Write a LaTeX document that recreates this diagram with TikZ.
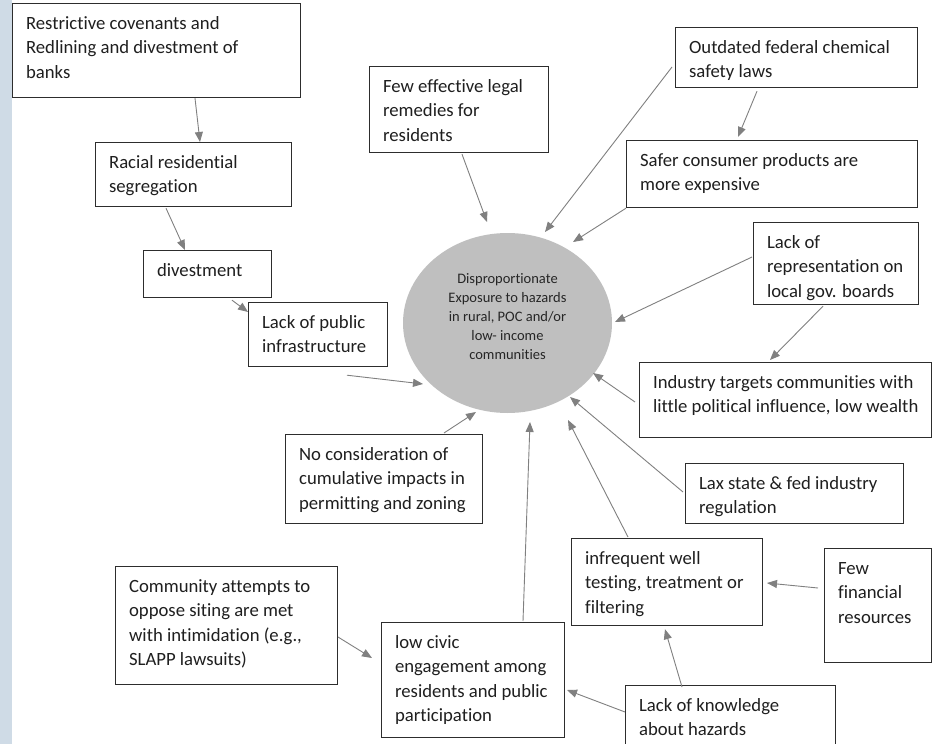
\documentclass[tikz,border=0pt]{standalone}
\usepackage{fontspec}
\setmainfont{Carlito}[Ligatures={NoCommon}]
\usetikzlibrary{shapes.geometric,arrows.meta,calc}
\definecolor{stripblue}{RGB}{207,219,230}
\definecolor{ellfill}{RGB}{191,191,191}
\definecolor{arrgray}{RGB}{128,128,128}
\definecolor{boxline}{RGB}{45,45,45}
\newcommand{\cbox}[6]{%
  \node[cbox,anchor=north west] (#1) at (#2,#3)
  {\hspace*{13.5pt}\parbox[c][\dimexpr #5pt-16.7pt\relax][t]{\dimexpr #4pt-13.5pt\relax}{\raggedright\strut #6}};}
\begin{document}
\begin{tikzpicture}[x=1pt,y=-1pt,
  cbox/.style={draw=boxline,line width=1.2pt,rectangle,inner xsep=0pt,inner ysep=8.35pt,
    font=\fontsize{18.7}{24.5}\selectfont,text=black!88},
  arr/.style={draw=arrgray,line width=0.9pt,-{Triangle[length=10pt,width=8pt]}}]
\useasboundingbox (0,0) rectangle (932,744);
\fill[white] (0,0) rectangle (932,744);
\fill[stripblue] (0,0) rectangle (12,744);

\node[ellipse,fill=ellfill,minimum width=209pt,minimum height=180pt,inner sep=0pt,
  label={[yshift=6pt,align=center,text=black!85,font=\fontsize{14.5}{19}\selectfont]center:{Disproportionate\\Exposure to hazards\\in rural, POC and/or\\low- income\\communities}}] (E) at (507.5,323) {};

\cbox{b1}{12}{3}{288}{94}{Restrictive covenants and\\Redlining and divestment of\\banks}
\cbox{b2}{95}{142}{196}{64}{Racial residential\\segregation}
\cbox{b3}{143}{250}{128}{47}{divestment}
\cbox{b4}{248}{302}{139}{64}{Lack of public\\infrastructure}
\cbox{b5}{369}{66}{179}{86}{Few effective legal\\remedies for\\residents}
\cbox{b6}{675}{27}{242}{60}{Outdated federal chemical\\safety laws}
\cbox{b7}{626}{140}{291}{67}{Safer consumer products are\\more expensive}
\cbox{b8}{753}{222}{165}{82}{Lack of\\representation on\\local gov. boards}
\cbox{b9}{639}{362}{292}{75}{Industry targets communities with\\little political influence, low wealth}
\cbox{b10}{685}{463}{218}{60}{Lax state \& fed industry\\regulation}
\cbox{b11}{285}{434}{197}{89}{No consideration of\\cumulative impacts in\\permitting and zoning}
\cbox{b12}{571}{538}{191}{87}{infrequent well\\testing, treatment or\\filtering}
\cbox{b13}{824}{548}{107}{114}{Few\\financial\\resources}
\cbox{b14}{115}{566}{222}{118}{Community attempts to\\oppose siting are met\\with intimidation (e.g.,\\SLAPP lawsuits)}
\cbox{b15}{381}{622}{183}{115}{low civic\\engagement among\\residents and public\\participation}
\cbox{b16}{625}{685}{210}{64}{Lack of knowledge\\about hazards}

\draw[arr] ($(b1.south west)+(183,0)$) -- ($(b2.north west)+(105,0)$);
\draw[arr] ($(b2.south west)+(71,1)$) -- ($(b3.north west)+(42,0)$);
\draw[arr] ($(b3.south west)+(89,2)$) -- ($(b4.north west)+(0,10)$);
\draw[arr] ($(b4.south west)+(99,8)$) -- ($(E.center)+(-84.5,61)$);
\draw[arr] ($(b5.south west)+(93,1)$) -- ($(E.center)+(-20.5,-101)$);
\draw[arr] ($(b6.north west)+(-3,40)$) -- ($(E.center)+(37.5,-91)$);
\draw[arr] ($(b6.south west)+(82,3)$) -- ($(b7.north west)+(112,-3)$);
\draw[arr] (b7.south west) -- ($(E.center)+(65.5,-81)$);
\draw[arr] ($(b8.north west)+(-1,35)$) -- ($(E.center)+(107.5,-1)$);
\draw[arr] ($(b8.south west)+(70,1)$) -- ($(b9.north west)+(131,-2)$);
\draw[arr] ($(b9.north west)+(-4,40)$) -- ($(E.center)+(85.5,50)$);
\draw[arr] ($(b10.north west)+(-2,29)$) -- ($(E.center)+(62.5,74)$);
\draw[arr] ($(b12.north west)+(57,-1)$) -- ($(E.center)+(60.5,97)$);
\draw[arr] ($(b15.north west)+(142,-1)$) -- ($(E.center)+(22.5,99)$);
\draw[arr] ($(b11.north west)+(159,-1)$) -- ($(E.center)+(-31.5,89)$);
\draw[arr] ($(b14.north west)+(223,71)$) -- ($(b15.north west)+(-9,36)$);
\draw[arr] ($(b16.north west)+(0,27)$) -- ($(b15.north west)+(186,68)$);
\draw[arr] ($(b16.north west)+(57,2)$) -- ($(b12.south west)+(94,3)$);
\draw[arr] ($(b13.north west)+(-6,40)$) -- ($(b12.north west)+(196,45)$);
\end{tikzpicture}
\end{document}
